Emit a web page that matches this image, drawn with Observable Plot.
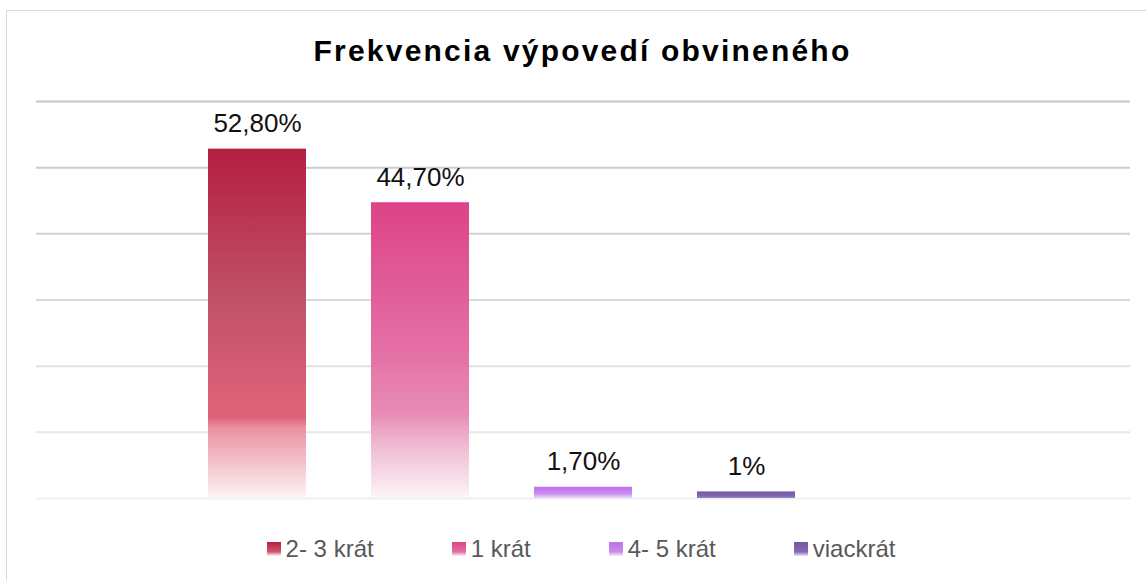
<!DOCTYPE html>
<html>
<head>
<meta charset="utf-8">
<script src="https://cdn.jsdelivr.net/npm/d3@7"></script>
<script src="https://cdn.jsdelivr.net/npm/@observablehq/plot@0.6"></script>
<style>
html, body { margin: 0; padding: 0; background: #fff; }
#chart { position: relative; width: 1146px; height: 580px; overflow: hidden; font-family: "Liberation Sans", Arial, sans-serif; background: #fff; }
#frame { position: absolute; left: 6px; top: 10px; width: 1200px; height: 700px; border: 1.5px solid #d9d9d9; box-sizing: border-box; }
#title { position: absolute; left: 0; top: 34px; width: 1165px; text-align: center; font-size: 30px; font-weight: bold; letter-spacing: 2.2px; line-height: 34px; color: #000; white-space: nowrap; }
#plot { position: absolute; left: 0; top: 80px; }
#legend { position: absolute; left: 0; top: 535px; width: 1162px; display: flex; justify-content: center; gap: 78px; font-size: 24px; line-height: 28px; color: #595959; white-space: nowrap; }
.item { display: flex; align-items: center; }
.sw { width: 14px; height: 14px; margin-right: 5px; }
#defs { position: absolute; width: 0; height: 0; overflow: hidden; }
</style>
</head>
<body>
<div id="chart">
  <div id="frame"></div>
  <div id="title">Frekvencia výpovedí obvineného</div>
  <div id="plot"></div>
  <div id="legend"></div>
</div>
<svg id="defs" width="0" height="0"><defs id="defsInner"></defs></svg>
<script>
// ---- data ----
const categories = ["2- 3 krát", "1 krát", "4- 5 krát", "viackrát"];
const values = [52.8, 44.7, 1.7, 1];
const labels = ["52,80%", "44,70%", "1,70%", "1%"];
const gridTicks = [0, 10, 20, 30, 40, 50, 60];

// ---- styles (gradient stops per series) ----
const barStops = [
  [[0, "#b41e43"], [0.43, "#c05168"], [0.77, "#e1637b"], [0.80, "#ea92a2"], [1, "#fdf3f5"]],
  [[0, "#dd4388"], [0.5, "#e46fa5"], [0.72, "#e88db5"], [0.80, "#eeb3cd"], [1, "#fdf4f8"]],
  [[0, "#bd72ea"], [0.6, "#c98cee"], [1, "#ecd9f9"]],
  [[0, "#7658a3"], [0.7, "#8066ae"], [1, "#a08ac6"]]
];
const swatchCss = [
  "linear-gradient(#b41e43, #d0566d 70%, #f3c4cd 90%, #fdf3f5)",
  "linear-gradient(#dd4388, #e46fa5 70%, #f3c4da 90%, #fdf4f8)",
  "linear-gradient(#bd72ea, #c98cee 70%, #e7d0f7 90%, #f6eefc)",
  "linear-gradient(#7658a3, #8469b0 70%, #c9bde0 90%, #efebf6)"
];

const W = 1146, H = 440, mT = 21, mB = 22, mL = 36, mR = 16;

// gradient definitions
const defs = d3.select("#defsInner");
barStops.forEach((stops, i) => {
  const g = defs.append("linearGradient").attr("id", `bar${i}`)
    .attr("x1", 0).attr("y1", 0).attr("x2", 0).attr("y2", 1);
  stops.forEach(([o, c]) => g.append("stop").attr("offset", o).attr("stop-color", c));
});
const gg = defs.append("linearGradient").attr("id", "gridGrad")
  .attr("gradientUnits", "userSpaceOnUse")
  .attr("x1", 0).attr("y1", mT).attr("x2", 0).attr("y2", H - mB);
gg.append("stop").attr("offset", 0).attr("stop-color", "#c4c4c4");
gg.append("stop").attr("offset", 1).attr("stop-color", "#efefef");

const data = categories.map((c, i) => ({cat: c, value: values[i], label: labels[i]}));

const chart = Plot.plot({
  width: W,
  height: H,
  marginTop: mT,
  marginBottom: mB,
  marginLeft: mL,
  marginRight: mR,
  style: {fontFamily: "'Liberation Sans', Arial, sans-serif", background: "transparent", overflow: "visible"},
  x: {domain: categories, range: [207, 796], paddingInner: 0.4, paddingOuter: 0, axis: null},
  y: {domain: [0, 60], axis: null},
  color: {type: "ordinal", domain: categories, range: categories.map((_, i) => `url(#bar${i})`)},
  marks: [
    Plot.ruleY(gridTicks, {stroke: "url(#gridGrad)", strokeWidth: 2}),
    Plot.barY(data, {x: "cat", y: "value", fill: "cat"}),
    Plot.text(data, {x: "cat", y: "value", text: "label", lineAnchor: "bottom", dy: -17, fontSize: 26, fill: "#111"})
  ]
});
document.getElementById("plot").appendChild(chart);

// legend
const legend = d3.select("#legend");
categories.forEach((c, i) => {
  const it = legend.append("div").attr("class", "item");
  it.append("div").attr("class", "sw").style("background", swatchCss[i]);
  it.append("span").text(c);
});
</script>
</body>
</html>
